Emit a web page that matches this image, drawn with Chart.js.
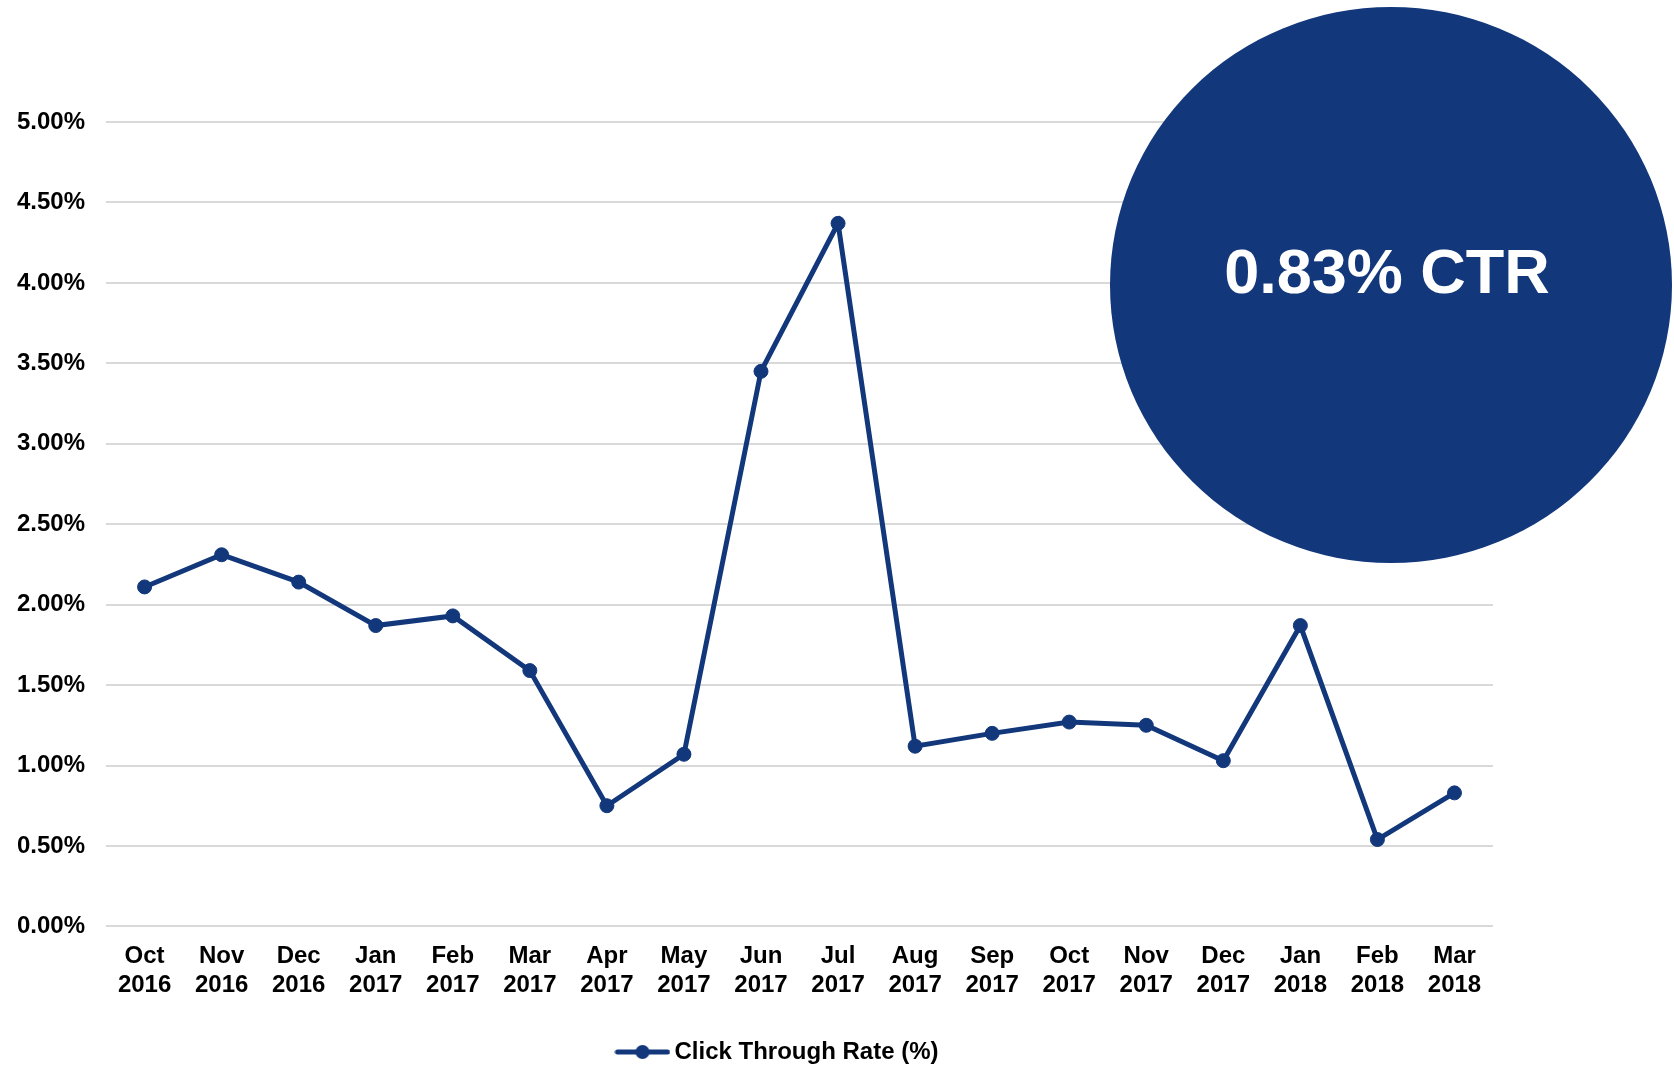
<!DOCTYPE html>
<html>
<head>
<meta charset="utf-8">
<title>Click Through Rate</title>
<script src="https://cdn.jsdelivr.net/npm/chart.js@4.4.1/dist/chart.umd.min.js"></script>
<style>
  html, body { margin: 0; padding: 0; background: #fff; }
  canvas { display: block; }
</style>
</head>
<body>
<canvas id="ctrChart" width="1674" height="1069"></canvas>
<script>
// monthly click through rate, in percent
const months = ['Oct', 'Nov', 'Dec', 'Jan', 'Feb', 'Mar', 'Apr', 'May', 'Jun',
                'Jul', 'Aug', 'Sep', 'Oct', 'Nov', 'Dec', 'Jan', 'Feb', 'Mar']
const years = ['2016', '2016', '2016', '2017', '2017', '2017', '2017', '2017', '2017',
               '2017', '2017', '2017', '2017', '2017', '2017', '2018', '2018', '2018']
const ctr = [2.11, 2.31, 2.14, 1.87, 1.93, 1.59, 0.75, 1.07, 3.45,
             4.37, 1.12, 1.20, 1.27, 1.25, 1.03, 1.87, 0.54, 0.83]
const yTicks = [0, 0.5, 1, 1.5, 2, 2.5, 3, 3.5, 4, 4.5, 5]

const navy = '#12387b'
const fontFamily = '"Liberation Sans", Arial, sans-serif'

const labels = months.map((m, i) => [m, years[i]])

// legend marker: short line with a dot in the middle
const marker = document.createElement('canvas')
marker.width = 56
marker.height = 16
const mctx = marker.getContext('2d')
mctx.strokeStyle = navy
mctx.lineWidth = 5
mctx.lineCap = 'round'
mctx.beginPath()
mctx.moveTo(3, 8)
mctx.lineTo(53, 8)
mctx.stroke()
mctx.fillStyle = navy
mctx.beginPath()
mctx.arc(28, 8, 7, 0, Math.PI * 2)
mctx.fill()

// big badge with the latest month's rate
const badge = {
    id: 'badge',
    afterLayout(chart) {
        // nudge the legend a little to the right
        chart.legend.left += 36
        chart.legend.right += 36
    },
    afterDraw(chart) {
        const c = chart.ctx
        c.save()
        c.fillStyle = navy
        c.beginPath()
        c.ellipse(1391, 285, 281, 278, 0, 0, Math.PI * 2)
        c.fill()
        c.fillStyle = '#fff'
        c.font = 'bold 63px ' + fontFamily
        c.textAlign = 'center'
        c.textBaseline = 'alphabetic'
        c.fillText(ctr[ctr.length - 1].toFixed(2) + '% CTR', 1387, 293)
        c.restore()
    }
}

const ctx = document.getElementById('ctrChart')
new Chart(ctx, {
    type: 'line',
    data: {
        labels: labels,
        datasets: [{
            label: 'Click Through Rate (%)',
            data: ctr,
            borderColor: navy,
            backgroundColor: navy,
            borderWidth: 5,
            pointRadius: 7,
            pointBorderWidth: 1,
            pointBackgroundColor: navy,
            pointBorderColor: navy,
            tension: 0
        }]
    },
    options: {
        responsive: false,
        maintainAspectRatio: false,
        animation: false,
        layout: {
            padding: { left: -4, right: 181, top: 122, bottom: -5 }
        },
        scales: {
            x: {
                offset: true,
                grid: { display: false },
                border: { display: false },
                ticks: {
                    autoSkip: false,
                    maxRotation: 0,
                    padding: 8,
                    color: '#000',
                    font: { family: fontFamily, size: 24, weight: 'bold' }
                }
            },
            y: {
                min: 0,
                max: 5,
                afterBuildTicks(scale) {
                    scale.ticks = yTicks.map(v => ({ value: v }))
                },
                grid: { color: '#d9d9d9', lineWidth: 2, drawTicks: false },
                border: { display: false },
                ticks: {
                    padding: 21,
                    color: '#000',
                    font: { family: fontFamily, size: 24, weight: 'bold' },
                    callback: v => v.toFixed(2) + '%'
                }
            }
        },
        plugins: {
            legend: {
                position: 'bottom',
                labels: {
                    usePointStyle: true,
                    pointStyle: marker,
                    pointStyleWidth: 40,
                    padding: 32,
                    color: '#000',
                    font: { family: fontFamily, size: 24, weight: 'bold' }
                }
            },
            tooltip: { enabled: false }
        }
    },
    plugins: [badge]
})
</script>
</body>
</html>
